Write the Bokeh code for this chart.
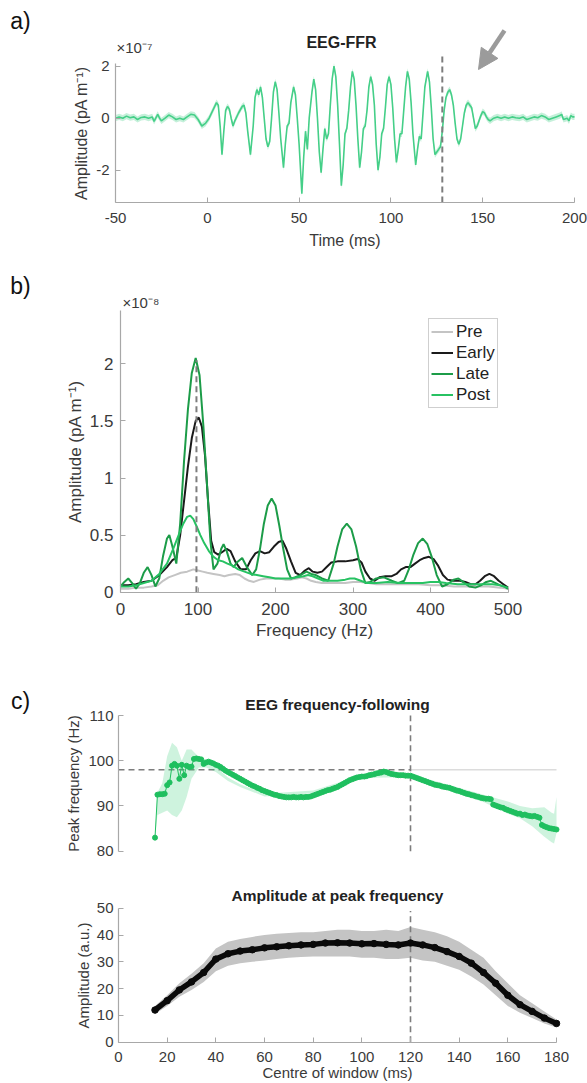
from bokeh.plotting import figure
from bokeh.layouts import column
from bokeh.models import (Label, Arrow, NormalHead, FixedTicker, CustomJSTickFormatter,
                          Legend, LegendItem, Range1d)
from bokeh.embed import file_html
from bokeh.resources import INLINE

# ---------------- Panel a: EEG-FFR waveform (x 1e-7 pA m^-1) ----------------
ffr_time = [-50, -48, -46, -44, -42, -40, -38, -36, -34, -32,
            -30, -29, -27, -26, -25, -23, -21, -19, -17, -15,
            -13, -11, -9, -7, -5, -3, -1, 1, 3, 5,
            6, 7, 8, 9, 10, 11, 12, 13, 14, 15,
            17, 19, 20, 21, 22, 23.5, 25, 26, 27, 28,
            29, 30, 31, 32, 33, 34, 35, 36, 37, 38,
            39, 40, 41.5, 42.5, 43.5, 44.5, 45.5, 47, 48, 49,
            50, 51.5, 52.5, 53.5, 54.5, 55.5, 57, 58, 59, 60,
            61, 62, 63, 64, 65, 66, 67, 68, 69, 70,
            71, 72, 73, 74, 75, 76, 77, 78, 79, 80,
            81, 82, 83, 84, 85, 86, 87, 88, 89, 90,
            91, 92, 93, 94, 95, 96, 97, 98, 99, 100,
            101, 102, 103, 104, 105, 106, 107, 108, 109, 110,
            111, 112, 113.5, 114.5, 115.5, 116.5, 117.5, 118.5, 120, 121,
            122, 123, 124, 125, 126, 127, 128, 129, 130, 131,
            132, 133, 134, 135, 136, 137, 138, 139, 140, 141,
            142, 143, 144, 145, 146, 147, 148, 149, 150, 151,
            152, 153, 154, 156, 158, 160, 162, 164, 166, 168,
            170, 172, 174, 176, 178, 180, 182, 184, 186, 188,
            190, 192, 193, 194, 196, 197, 198, 199, 200]
ffr_amp = [0.0, 0.05, 0.0, 0.08, 0.02, 0.05, -0.05, 0.03, 0.05, 0.0,
           0.05, -0.12, 0.15, 0.0, -0.1, 0.0, 0.12, 0.05, -0.05, 0.0,
           -0.05, 0.05, 0.15, 0.12, -0.05, -0.3, -0.2, 0.0, 0.3, 0.6,
           0.5, -0.3, -1.4, -0.5, 0.3, 0.45, 0.35, 0.0, -0.3, -0.1,
           0.2, 0.45, 0.5, 0.2, -0.5, -1.4, -0.3, 0.8, 1.1, 0.9,
           1.2, 0.8, 0.0, -0.8, -1.1, -0.9, 0.0, 1.0, 1.4, 1.1,
           0.2, -0.8, -1.9, -1.0, -0.3, -0.2, 0.6, 1.2, 0.9, 0.0,
           -1.0, -2.9, -1.5, -0.5, -1.2, 0.0, 1.0, 1.5, 1.1, 0.0,
           -1.3, -2.1, -1.2, -0.4, -0.8, -0.6, 0.5, 1.5, 2.0, 1.6,
           0.5, -1.0, -2.6, -1.8, -0.6, -0.4, 0.3, 1.2, 1.8, 1.5,
           0.5, -0.8, -1.9, -1.3, -0.4, -0.3, 0.3, 1.2, 1.6, 1.3,
           0.5, -1.0, -2.0, -1.5, -0.6, -0.4, 0.4, 1.3, 1.6, 1.3,
           0.4, -0.8, -1.7, -1.2, -0.6, -0.6, 0.3, 1.2, 1.8, 1.5,
           0.6, -0.6, -1.8, -1.2, -0.7, -0.8, 0.2, 1.2, 1.8, 1.4,
           0.4, -0.8, -1.4, -1.3, -1.2, -1.1, -0.5, 0.3, 0.8, 1.0,
           1.1, 0.9, 0.5, -0.2, -0.8, -1.0, -0.8, -0.3, 0.2, 0.5,
           0.6, 0.5, 0.4, 0.0, -0.4, -0.3, -0.1, 0.1, 0.25, 0.2,
           0.05, -0.05, -0.1, 0.0, 0.05, 0.0, 0.05, 0.0, 0.05, 0.02,
           0.0, 0.05, -0.05, 0.0, 0.05, 0.02, 0.1, 0.05, -0.05, 0.0,
           0.05, 0.1, 0.15, -0.05, 0.0, -0.1, 0.1, 0.05, 0.05]
ffr_sem = 0.12            # half-width of the shaded error band
a_xlim = (-50, 200)
a_ylim = (-3.24, 2.1)
stim_end_ms = 128         # dashed marker in panel a
stim_end_top = 2.41
a_ticks_x = [-50, 0, 50, 100, 150, 200]
a_ticks_y = [-2, 0, 2]

# ---------------- Panel b: spectra (x 1e-8 pA m^-1) ----------------
pre_f = [0, 10, 20, 30, 40, 48, 55, 62, 70, 78, 86, 94, 100, 106, 112, 120, 128, 134, 140, 148,
         154, 160, 166, 172, 180, 188, 196, 204, 212, 220, 228, 234, 240, 246, 252, 260, 270, 280,
         290, 300, 310, 320, 330, 340, 355, 370, 385, 400, 415, 430, 445, 460, 475, 490, 500]
pre_a = [0.03, 0.03, 0.04, 0.04, 0.05, 0.06, 0.10, 0.13, 0.15, 0.17, 0.18, 0.20, 0.19, 0.18, 0.17,
         0.16, 0.15, 0.14, 0.15, 0.16, 0.15, 0.12, 0.10, 0.09, 0.11, 0.12, 0.12, 0.12, 0.11, 0.11,
         0.12, 0.13, 0.12, 0.10, 0.09, 0.08, 0.08, 0.08, 0.08, 0.09, 0.09, 0.08, 0.07, 0.07, 0.07,
         0.07, 0.07, 0.06, 0.06, 0.05, 0.05, 0.05, 0.05, 0.04, 0.03]
early_f = [0, 10, 20, 30, 40, 50, 60, 67, 72, 77, 82, 87, 92, 97, 101, 105, 109, 113, 117, 121,
           126, 131, 137, 142, 148, 155, 162, 168, 174, 180, 186, 192, 198, 204, 209, 214, 220, 226,
           232, 238, 243, 248, 254, 260, 266, 272, 280, 290, 300, 306, 311, 316, 322, 328, 334, 342,
           350, 356, 362, 368, 374, 380, 386, 392, 398, 404, 410, 416, 422, 430, 438, 445, 452, 458,
           464, 470, 476, 482, 488, 494, 500]
early_a = [0.06, 0.06, 0.07, 0.09, 0.10, 0.15, 0.22, 0.28, 0.30, 0.50, 0.80, 1.10, 1.35, 1.50, 1.53,
           1.45, 1.20, 0.80, 0.45, 0.35, 0.33, 0.35, 0.38, 0.36, 0.27, 0.20, 0.20, 0.28, 0.34, 0.36,
           0.34, 0.35, 0.40, 0.44, 0.45, 0.38, 0.27, 0.17, 0.15, 0.19, 0.21, 0.18, 0.17, 0.18, 0.22,
           0.26, 0.27, 0.27, 0.28, 0.29, 0.26, 0.18, 0.12, 0.10, 0.13, 0.14, 0.14, 0.16, 0.20, 0.22,
           0.22, 0.25, 0.28, 0.30, 0.31, 0.29, 0.23, 0.15, 0.11, 0.10, 0.10, 0.09, 0.07, 0.07, 0.10,
           0.14, 0.16, 0.14, 0.10, 0.07, 0.04]
late_f = [0, 5, 10, 15, 20, 25, 30, 35, 40, 45, 50, 55, 60, 63, 67, 72, 77, 82, 87, 92, 97, 102,
          107, 112, 116, 120, 125, 130, 133, 137, 142, 146, 150, 157, 163, 170, 175, 180, 185, 190,
          195, 200, 205, 210, 215, 220, 225, 232, 240, 246, 252, 260, 268, 275, 280, 286, 292, 298,
          304, 310, 316, 322, 330, 340, 350, 358, 366, 372, 378, 384, 390, 396, 402, 408, 415, 422,
          430, 436, 442, 450, 458, 465, 472, 478, 484, 490, 495, 500]
late_a = [0.05, 0.09, 0.12, 0.08, 0.03, 0.08, 0.17, 0.22, 0.15, 0.05, 0.12, 0.32, 0.47, 0.50, 0.40,
          0.25, 0.60, 1.15, 1.60, 1.92, 2.05, 1.90, 1.45, 0.90, 0.45, 0.20, 0.25, 0.38, 0.42, 0.36,
          0.25, 0.22, 0.26, 0.30, 0.22, 0.15, 0.20, 0.38, 0.60, 0.76, 0.82, 0.76, 0.58, 0.38, 0.20,
          0.12, 0.13, 0.15, 0.18, 0.16, 0.15, 0.12, 0.10, 0.25, 0.40, 0.55, 0.60, 0.55, 0.40, 0.20,
          0.08, 0.09, 0.12, 0.13, 0.10, 0.08, 0.10, 0.20, 0.33, 0.43, 0.47, 0.42, 0.30, 0.15, 0.05,
          0.07, 0.11, 0.12, 0.09, 0.05, 0.04, 0.06, 0.09, 0.10, 0.08, 0.06, 0.05, 0.03]
post_f = [0, 10, 20, 30, 40, 50, 60, 68, 75, 81, 86, 90, 94, 98, 103, 108, 114, 120, 126, 132, 138,
          145, 152, 160, 168, 176, 184, 192, 200, 210, 220, 228, 236, 242, 248, 255, 262, 270, 280,
          290, 296, 302, 310, 318, 330, 345, 360, 375, 390, 400, 410, 420, 435, 450, 465, 480, 490, 500]
post_a = [0.05, 0.05, 0.06, 0.08, 0.10, 0.16, 0.25, 0.38, 0.50, 0.60, 0.66, 0.67, 0.64, 0.58, 0.50,
          0.43, 0.36, 0.31, 0.28, 0.27, 0.25, 0.23, 0.20, 0.18, 0.16, 0.15, 0.14, 0.13, 0.12, 0.12,
          0.12, 0.13, 0.14, 0.15, 0.14, 0.12, 0.10, 0.10, 0.10, 0.11, 0.12, 0.12, 0.10, 0.08, 0.08,
          0.09, 0.08, 0.08, 0.08, 0.09, 0.09, 0.08, 0.07, 0.07, 0.07, 0.07, 0.06, 0.04]
b_xlim = (0, 500)
b_ylim = (0, 2.47)
f0_hz = 98
f0_top = 2.03
b_ticks_x = [0, 100, 200, 300, 400, 500]
b_ticks_y = [0, 0.5, 1, 1.5, 2]

# ---------------- Panel c: sliding window analysis ----------------
win_centre = list(range(15, 181))
peak_freq = [83.0, 92.5, 92.6, 92.6, 92.7, 94.6, 95.2, 98.9, 99.3, 98.9,
             96.0, 99.1, 96.8, 98.9, 98.6, 98.7, 100.4, 100.5, 100.4, 100.3,
             99.3, 99.6, 99.8, 99.6, 99.4, 99.1, 98.9, 98.6, 98.2, 97.8,
             97.5, 97.2, 96.9, 96.6, 96.3, 96.0, 95.7, 95.4, 95.1, 94.8,
             94.5, 94.3, 94.0, 93.8, 93.5, 93.3, 93.1, 92.9, 92.7, 92.5,
             92.4, 92.2, 92.1, 92.0, 91.9, 91.9, 91.9, 92.0, 91.9, 91.9,
             92.0, 91.9, 92.0, 92.0, 92.1, 92.3, 92.5, 92.7, 92.9, 93.1,
             93.3, 93.5, 93.6, 93.8, 94.0, 94.2, 94.5, 94.8, 95.1, 95.4,
             95.7, 95.9, 96.1, 96.3, 96.4, 96.5, 96.5, 96.6, 96.8, 96.9,
             97.0, 97.2, 97.3, 97.4, 97.6, 97.5, 97.3, 97.1, 97.0, 96.9,
             96.8, 96.8, 96.8, 96.7, 96.7, 96.7, 96.5, 96.3, 96.1, 95.9,
             95.7, 95.5, 95.3, 95.1, 94.9, 94.7, 94.6, 94.5, 94.3, 94.2,
             94.1, 94.0, 93.8, 93.6, 93.4, 93.3, 93.1, 92.9, 92.7, 92.6,
             92.4, 92.3, 92.1, 92.0, 91.8, 91.7, 91.6, 91.6, 91.5, 90.3,
             90.1, 89.9, 89.7, 89.6, 89.3, 89.1, 88.9, 88.7, 88.5, 88.3,
             88.3, 88.0, 88.1, 87.9, 87.8, 87.7, 87.8, 87.6, 87.4, 85.8,
             85.5, 85.3, 85.1, 85.0, 84.9, 84.8]
pf_band_x = [15, 16, 18, 20, 22, 24, 26, 28, 30, 33, 36, 40, 45, 50, 60, 80, 100, 120, 140,
             150, 160, 165, 170, 175, 178, 179, 180]
pf_band_lo = [83, 88, 88.5, 89, 88, 87.5, 89, 92, 96, 98.5, 98.5, 97.5, 95.5, 94.2, 92.1, 92.8,
              96.2, 96.4, 92.6, 90.9, 88.3, 87.3, 85.5, 83.2, 82.0, 81.7, 84.0]
pf_band_hi = [83, 93, 95, 101, 104, 103, 100, 102.5, 102.5, 100.8, 100.3, 98.6, 96.3, 94.8, 92.7,
              93.4, 96.8, 97.0, 94.0, 92.5, 91.0, 90.0, 89.5, 89.7, 88.5, 88.3, 92.0]
amp_x = [15, 20, 25, 30, 35, 40, 45, 50, 55, 60, 65, 70, 75, 80, 85, 90, 95, 100, 105, 110,
         115, 120, 125, 130, 135, 140, 145, 150, 155, 160, 165, 170, 175, 180]
amp_peak = [12, 15.5, 19.5, 22.5, 26, 31, 33, 34, 34.5, 35.2, 35.6, 36, 36.3, 36.5, 37, 37.1, 37,
            36.7, 36.8, 36.5, 36.3, 37, 36.3, 35.3, 33.8, 32, 29.5, 26, 22, 17.5, 14, 11.5, 9, 7]
amp_lo = [10.5, 13.5, 17, 19.5, 22.5, 26.5, 28.5, 29.5, 30, 30.5, 31, 31.5, 31.8, 32, 32, 32, 32,
          31.5, 31.5, 31, 31, 31.5, 30.5, 30, 28.5, 27, 24.5, 21.5, 17.5, 13.5, 11, 9, 7, 5.5]
amp_hi = [13.5, 17.5, 22, 25.5, 29.5, 35, 37.5, 38.5, 39.3, 40, 40.5, 40.7, 41, 41, 41.5, 42, 42,
          41.5, 41.5, 42, 41.5, 43, 42, 41, 39.5, 37.5, 34.5, 31.5, 26.5, 22, 17.5, 14.5, 11.5, 8.5]
c_xlim = (0, 180)
c1_ylim = (80, 110)
c2_ylim = (0, 50)
win_marker_ms = 120
c_ticks_x = [0, 20, 40, 60, 80, 100, 120, 140, 160, 180]
c1_ticks_y = [80, 90, 100, 110]
c2_ticks_y = [0, 10, 20, 30, 40, 50]

# ---------------- styling / layout ----------------
FONT = "Liberation Sans"
AXC = "#a8a8a8"
TXT = "#3a3a3a"
DASH = "#7d7d7d"
W = 587
PAGE_L, PAGE_R = 0, W


class Geo:
    """Maps page pixels to data values for one figure whose frame fills the figure."""
    def __init__(self, top, bottom, xa, pxa, xb, pxb, ya, pya, yb, pyb):
        self.top, self.bottom = top, bottom
        self.xa, self.pxa, self.sx = xa, pxa, (xb - xa) / (pxb - pxa)
        self.ya, self.pya, self.sy = ya, pya, (yb - ya) / (pyb - pya)

    def x(self, px):
        return self.xa + (px - self.pxa) * self.sx

    def y(self, py):
        return self.ya + (py - self.pya) * self.sy

    def fig(self):
        p = figure(width=W, height=self.bottom - self.top,
                   x_range=Range1d(self.x(PAGE_L), self.x(PAGE_R)),
                   y_range=Range1d(self.y(self.bottom), self.y(self.top)),
                   output_backend="svg", toolbar_location=None,
                   min_border_left=0, min_border_right=0, min_border_top=0, min_border_bottom=0)
        p.outline_line_color = None
        p.grid.visible = False
        p.background_fill_color = "white"
        p.border_fill_color = "white"
        return p


def style_axis(ax, ticks, fs, lab_fs, text, std, lab_std, loc, bounds):
    ax.fixed_location = loc
    ax.bounds = bounds
    ax.ticker = FixedTicker(ticks=ticks)
    ax.axis_line_color = AXC
    ax.axis_line_width = 1.2
    ax.major_tick_line_color = AXC
    ax.minor_tick_line_color = None
    ax.major_tick_in = 5
    ax.major_tick_out = 0
    ax.major_label_text_font = FONT
    ax.major_label_text_font_size = f"{fs}px"
    ax.major_label_text_color = TXT
    ax.major_label_standoff = std
    ax.axis_label = text
    ax.axis_label_text_font = FONT
    ax.axis_label_text_font_size = f"{lab_fs}px"
    ax.axis_label_text_font_style = "normal"
    ax.axis_label_text_color = TXT
    ax.axis_label_standoff = lab_std
    ax.formatter = CustomJSTickFormatter(code="return tick.toString();")


def text(p, g, px, py, s, size, bold=False, align="center", color="#222222"):
    p.add_layout(Label(x=g.x(px), y=g.y(py), text=s, text_font=FONT, text_font_size=f"{size}px",
                       text_font_style="bold" if bold else "normal", text_color=color,
                       text_align=align, text_baseline="middle"))


# ---------------- Panel a ----------------
ga = Geo(0, 258, -50, 115, 200, 574, 0, 117.7, -2, 169.7)
pa = ga.fig()
style_axis(pa.xaxis[0], a_ticks_x, 15, 16, "Time (ms)", 11, 5, a_ylim[0], a_xlim)
style_axis(pa.yaxis[0], a_ticks_y, 15, 16, "Amplitude (pA m⁻¹)", 6, 3, a_xlim[0], a_ylim)
pa.varea(x=ffr_time, y1=[v - ffr_sem for v in ffr_amp], y2=[v + ffr_sem for v in ffr_amp],
         fill_color="#58d495", fill_alpha=0.35)
pa.line(ffr_time, ffr_amp, line_color="#45cf88", line_width=1.6)
pa.segment(x0=[stim_end_ms], y0=[a_ylim[0]], x1=[stim_end_ms], y1=[stim_end_top],
           line_color=DASH, line_width=2, line_dash="6 4")
pa.add_layout(Arrow(end=NormalHead(size=20, fill_color="#9b9b9b", line_color="#9b9b9b"),
                    x_start=ga.x(504), y_start=ga.y(30), x_end=ga.x(478), y_end=ga.y(69),
                    line_color="#9b9b9b", line_width=4.5))
text(pa, ga, 20, 20, "a)", 23, color="#111111")
text(pa, ga, 341, 42, "EEG-FFR", 16, bold=True)
text(pa, ga, 116, 47, "×10⁻⁷", 15, align="left", color=TXT)

# ---------------- Panel b ----------------
gb = Geo(258, 650, 0, 120, 500, 507.5, 0, 591.7, 2, 363.3)
pb = gb.fig()
style_axis(pb.xaxis[0], b_ticks_x, 17, 17, "Frequency (Hz)", 11, 2, b_ylim[0], b_xlim)
style_axis(pb.yaxis[0], b_ticks_y, 17, 17, "Amplitude (pA m⁻¹)", 7, 2, b_xlim[0], b_ylim)
r_pre = pb.line(pre_f, pre_a, line_color="#c4c4c4", line_width=2)
r_early = pb.line(early_f, early_a, line_color="#1a1a1a", line_width=2)
r_late = pb.line(late_f, late_a, line_color="#1c9c48", line_width=2)
r_post = pb.line(post_f, post_a, line_color="#27c262", line_width=2)
pb.segment(x0=[f0_hz], y0=[0], x1=[f0_hz], y1=[f0_top], line_color=DASH, line_width=2,
           line_dash="6 4")
leg = Legend(items=[LegendItem(label="Pre", renderers=[r_pre]),
                    LegendItem(label="Early", renderers=[r_early]),
                    LegendItem(label="Late", renderers=[r_late]),
                    LegendItem(label="Post", renderers=[r_post])],
             location=(428 - PAGE_L, gb.bottom - 408))
leg.label_text_font = FONT
leg.label_text_font_size = "17px"
leg.label_text_color = "#222222"
leg.label_height = 21
leg.glyph_height = 21
leg.glyph_width = 22
leg.label_standoff = 3
leg.spacing = 0
leg.padding = 2
leg.margin = 0
leg.border_line_color = "#a0a0a0"
leg.border_line_width = 1.2
leg.background_fill_color = "white"
leg.background_fill_alpha = 1
pb.add_layout(leg)
text(pb, gb, 20, 285, "b)", 23, color="#111111")
text(pb, gb, 122, 302, "×10⁻⁸", 15, align="left", color=TXT)

# ---------------- Panel c1 ----------------
gc1 = Geo(650, 870, 0, 118, 180, 556, 80, 850.7, 110, 715)
pc1 = gc1.fig()
pc1.xaxis.visible = False
style_axis(pc1.yaxis[0], c1_ticks_y, 15, 15, "Peak frequency (Hz)", 5, 3, c_xlim[0], c1_ylim)
pc1.segment(x0=[c_xlim[0]], y0=[f0_hz], x1=[win_marker_ms], y1=[f0_hz], line_color=DASH,
            line_width=1.6, line_dash="6 4")
pc1.segment(x0=[win_marker_ms], y0=[f0_hz], x1=[c_xlim[1]], y1=[f0_hz], line_color="#dcdcdc",
            line_width=1.6)
pc1.segment(x0=[win_marker_ms], y0=[c1_ylim[0]], x1=[win_marker_ms], y1=[c1_ylim[1]],
            line_color=DASH, line_width=1.6, line_dash="6 4")
pc1.varea(x=pf_band_x, y1=pf_band_lo, y2=pf_band_hi, fill_color="#3ccf7c", fill_alpha=0.25)
pc1.line(win_centre, peak_freq, line_color="#1fbf5f", line_width=1)
pc1.scatter(win_centre, peak_freq, size=5, marker="circle", fill_color="#1fbf5f",
            line_color="#1fbf5f")
text(pc1, gc1, 20, 700, "c)", 23, color="#111111")
text(pc1, gc1, 337, 704, "EEG frequency-following", 15.5, bold=True)

# ---------------- Panel c2 ----------------
gc2 = Geo(870, 1083, 0, 118, 180, 556, 0, 1041.7, 50, 907.7)
pc2 = gc2.fig()
style_axis(pc2.xaxis[0], c_ticks_x, 15, 15, "Centre of window (ms)", 10, -2, c2_ylim[0], c_xlim)
style_axis(pc2.yaxis[0], c2_ticks_y, 15, 15, "Amplitude (a.u.)", 5, 2, c_xlim[0], c2_ylim)
pc2.varea(x=amp_x, y1=amp_lo, y2=amp_hi, fill_color="#c4c4c4", fill_alpha=1)
pc2.segment(x0=[win_marker_ms], y0=[0], x1=[win_marker_ms], y1=[49], line_color=DASH,
            line_width=1.6, line_dash="6 4")
pc2.line(amp_x, amp_peak, line_color="#0a0a0a", line_width=5.5)
pc2.scatter(amp_x, amp_peak, size=6.5, marker="circle", fill_color="#0a0a0a", line_color="#0a0a0a")
text(pc2, gc2, 337, 895, "Amplitude at peak frequency", 15.5, bold=True)

layout = column(pa, pb, pc1, pc2, spacing=0)
open("out.html", "w").write(file_html(layout, INLINE))
